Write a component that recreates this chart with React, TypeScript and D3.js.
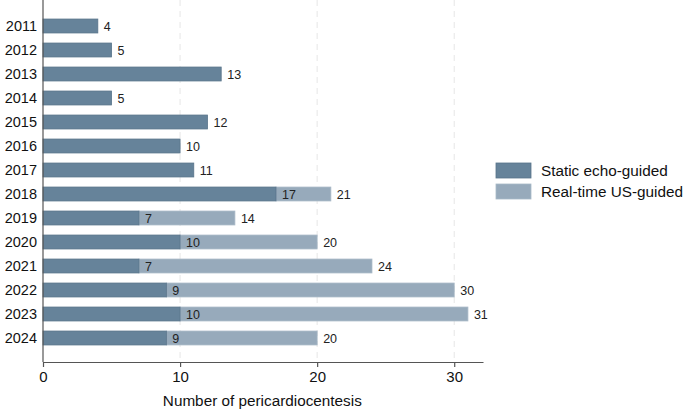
import React, { useRef, useEffect } from 'react';
import * as d3 from 'd3';

// 연도별 데이터
const years = ['2011', '2012', '2013', '2014', '2015', '2016', '2017', '2018', '2019', '2020', '2021', '2022', '2023', '2024'];
const staticEcho = [4, 5, 13, 5, 12, 10, 11, 17, 7, 10, 7, 9, 10, 9];
const realTimeUS = [0, 0, 0, 0, 0, 0, 0, 4, 7, 10, 17, 21, 21, 11];
const xTicks = [0, 10, 20, 30];
const seriesNames = ['Static echo-guided', 'Real-time US-guided'];

const WIDTH = 685;
const HEIGHT = 410;
const COLOR_STATIC = '#66839a';
const COLOR_RT = '#97aabb';
const FONT = 'Liberation Sans, Arial, Helvetica, sans-serif';

const App: React.FC = () => {
  const svgRef = useRef<SVGSVGElement | null>(null);

  useEffect(() => {
    const svg = d3.select(svgRef.current);
    svg.selectAll('*').remove();

    const left = 43;
    const axisY = 362;

    const x = d3.scaleLinear().domain([0, 32.1]).range([left, 483]);
    const y = d3.scaleBand().domain(years).range([2, axisY]).paddingInner(0.42).paddingOuter(0.71);

    // 격자선
    svg.append('g')
      .selectAll('line')
      .data(xTicks.filter((d) => d > 0))
      .enter()
      .append('line')
      .attr('x1', (d) => x(d))
      .attr('x2', (d) => x(d))
      .attr('y1', 0)
      .attr('y2', axisY)
      .attr('stroke', '#e6e6e6')
      .attr('stroke-width', 1)
      .attr('stroke-dasharray', '6 5');

    const rows = years.map((yr, i) => ({ yr, s: staticEcho[i], r: realTimeUS[i] }));

    // 막대
    const g = svg.append('g');
    g.selectAll('rect.rt')
      .data(rows.filter((d) => d.r > 0))
      .enter()
      .append('rect')
      .attr('class', 'rt')
      .attr('x', (d) => x(d.s))
      .attr('y', (d) => y(d.yr)!)
      .attr('width', (d) => x(d.s + d.r) - x(d.s))
      .attr('height', y.bandwidth())
      .attr('fill', COLOR_RT)
      .attr('stroke', '#a9b9c7')
      .attr('stroke-width', 0.8);

    g.selectAll('rect.st')
      .data(rows)
      .enter()
      .append('rect')
      .attr('class', 'st')
      .attr('x', x(0))
      .attr('y', (d) => y(d.yr)!)
      .attr('width', (d) => x(d.s) - x(0))
      .attr('height', y.bandwidth())
      .attr('fill', COLOR_STATIC)
      .attr('stroke', '#58748a')
      .attr('stroke-width', 0.8);

    // 값 라벨
    const labels = [
      ...rows.map((d) => ({ yr: d.yr, v: d.s })),
      ...rows.filter((d) => d.r > 0).map((d) => ({ yr: d.yr, v: d.s + d.r })),
    ];
    g.selectAll('text.val')
      .data(labels)
      .enter()
      .append('text')
      .attr('class', 'val')
      .attr('x', (d) => x(d.v) + 6)
      .attr('y', (d) => y(d.yr)! + y.bandwidth() / 2)
      .attr('dy', '0.36em')
      .attr('font-family', FONT)
      .attr('font-size', 12.5)
      .attr('fill', '#222')
      .text((d) => d.v);

    // Y축
    svg.append('line')
      .attr('x1', left).attr('x2', left)
      .attr('y1', 0).attr('y2', axisY)
      .attr('stroke', '#555').attr('stroke-width', 1.2);
    svg.append('g')
      .selectAll('text')
      .data(years)
      .enter()
      .append('text')
      .attr('x', left - 6)
      .attr('y', (d) => y(d)! + y.bandwidth() / 2)
      .attr('dy', '0.36em')
      .attr('text-anchor', 'end')
      .attr('font-family', FONT)
      .attr('font-size', 14.5)
      .attr('fill', '#111')
      .text((d) => d);

    // X축
    const xAxis = svg.append('g')
      .attr('transform', `translate(0,${axisY})`)
      .call(d3.axisBottom(x).tickValues(xTicks).tickSize(5).tickPadding(4).tickSizeOuter(0));
    xAxis.select('.domain').attr('stroke', '#555').attr('stroke-width', 1.2);
    xAxis.selectAll('.tick line').attr('stroke', '#555').attr('stroke-width', 1.2);
    xAxis.selectAll('.tick text')
      .attr('font-family', FONT)
      .attr('font-size', 15)
      .attr('fill', '#111');

    svg.append('text')
      .attr('x', x(16))
      .attr('y', 406)
      .attr('text-anchor', 'middle')
      .attr('font-family', FONT)
      .attr('font-size', 15.3)
      .attr('fill', '#111')
      .text('Number of pericardiocentesis');

    // 범례
    const legend = svg.append('g').attr('transform', 'translate(496,163)');
    seriesNames.forEach((name, i) => {
      legend.append('rect')
        .attr('x', 0)
        .attr('y', i * 21)
        .attr('width', 35)
        .attr('height', 15)
        .attr('fill', i === 0 ? COLOR_STATIC : COLOR_RT)
        .attr('stroke', i === 0 ? '#58748a' : '#a9b9c7')
        .attr('stroke-width', 0.8);
      legend.append('text')
        .attr('x', 45)
        .attr('y', i * 21 + 7.5)
        .attr('dy', '0.36em')
        .attr('font-family', FONT)
        .attr('font-size', 15.3)
        .attr('fill', '#111')
        .text(name);
    });
  }, []);

  return (
    <svg
      ref={svgRef}
      width={WIDTH}
      height={HEIGHT}
      style={{ position: 'fixed', left: 0, top: 0, background: '#fff' }}
    />
  );
};

export default App;
